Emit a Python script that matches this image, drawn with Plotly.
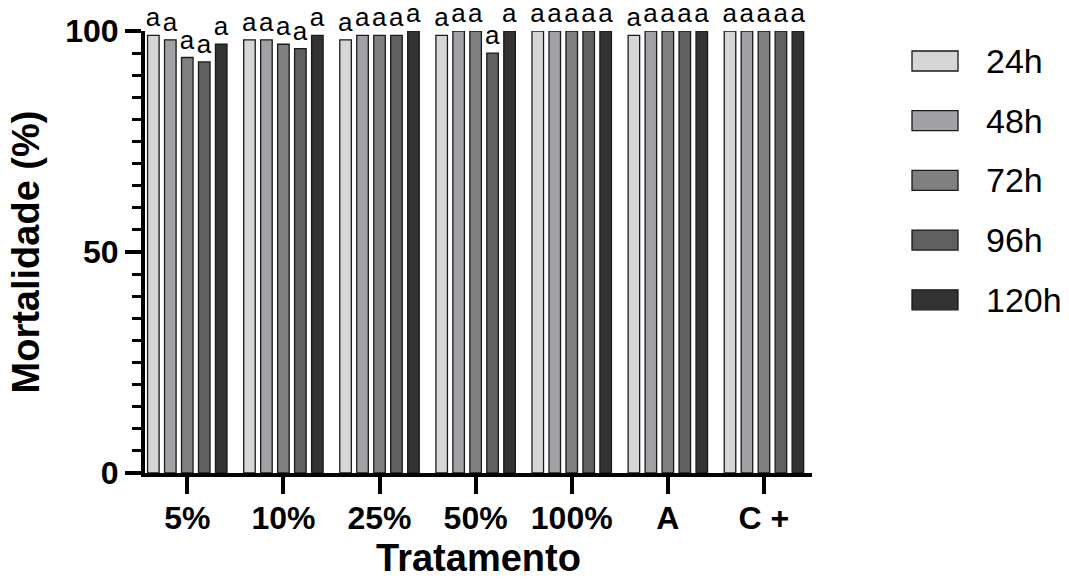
import plotly.graph_objects as go

# Treatments on the x axis
tratamentos = ["5%", "10%", "25%", "50%", "100%", "A", "C +"]

# Mortality (%) per exposure time
mort_24h = [99, 98, 98, 99, 100, 99, 100]
mort_48h = [98, 98, 99, 100, 100, 100, 100]
mort_72h = [94, 97, 99, 100, 100, 100, 100]
mort_96h = [93, 96, 99, 95, 100, 100, 100]
mort_120h = [97, 99, 100, 100, 100, 100, 100]

# Statistical grouping letters shown above each bar
letras = ["a", "a", "a", "a", "a", "a", "a"]

series_names = ["24h", "48h", "72h", "96h", "120h"]
series_values = [mort_24h, mort_48h, mort_72h, mort_96h, mort_120h]
series_colors = ["#d6d6d6", "#a2a1a6", "#808080", "#606060", "#333333"]

FONT = "Liberation Sans, Arial, Helvetica, sans-serif"

W, H = 1069, 587
M_L, M_R, M_T, M_B = 145, 257, 31, 114

fig = go.Figure()
for name, vals, col in zip(series_names, series_values, series_colors):
    fig.add_trace(go.Bar(
        name=name,
        x=tratamentos,
        y=vals,
        marker=dict(color=col, line=dict(color="#1a1a1a", width=1.3)),
        text=letras,
        textposition="outside",
        textfont=dict(family=FONT, size=26, color="#000000"),
        constraintext="none",
        cliponaxis=False,
        showlegend=False,
    ))

# Legend drawn as large swatches with labels to the right of the plot
def px_to_paper_x(px):
    return (px - M_L) / (W - M_L - M_R)

def px_to_paper_y(py):
    return 1 - (py - M_T) / (H - M_T - M_B)

shapes = []
annotations = []
row0, row_step = 61, 59.7
for i, (name, col) in enumerate(zip(series_names, series_colors)):
    cy = row0 + i * row_step
    shapes.append(dict(
        type="rect", xref="paper", yref="paper",
        x0=px_to_paper_x(912), x1=px_to_paper_x(958),
        y0=px_to_paper_y(cy - 10), y1=px_to_paper_y(cy + 10),
        fillcolor=col, line=dict(color="#1a1a1a", width=1.3),
    ))
    annotations.append(dict(
        text=name, xref="paper", yref="paper",
        x=px_to_paper_x(984), y=px_to_paper_y(cy),
        xanchor="left", yanchor="middle", showarrow=False,
        font=dict(family=FONT, size=34, color="#000000"),
    ))

fig.update_layout(
    width=W, height=H,
    margin=dict(l=M_L, r=M_R, t=M_T, b=M_B, autoexpand=False),
    paper_bgcolor="white", plot_bgcolor="white",
    barmode="group",
    bargap=0.117,
    bargroupgap=0.32,
    showlegend=False,
    shapes=shapes,
    annotations=annotations,
    font=dict(family=FONT, color="#000000"),
)

fig.update_xaxes(
    range=[-0.44, 6.5],
    automargin=False,
    showline=True, linecolor="#000000", linewidth=4,
    ticks="outside", ticklen=17, tickwidth=4, tickcolor="#000000",
    ticklabelstandoff=-3,
    tickfont=dict(family=FONT, size=32, color="#000000", weight="bold"),
    title=dict(text="<b>Tratamento</b>", font=dict(family=FONT, size=38, color="#000000"), standoff=10),
    showgrid=False, zeroline=False,
)
fig.update_yaxes(
    range=[0, 100],
    automargin=False,
    tickvals=[0, 50, 100],
    showline=True, linecolor="#000000", linewidth=4,
    ticks="outside", ticklen=16, tickwidth=4, tickcolor="#000000",
    minor=dict(dtick=5, ticks="outside", ticklen=9, tickwidth=3, tickcolor="#000000", showgrid=False),
    tickfont=dict(family=FONT, size=32, color="#000000", weight="bold"),
    title=dict(text="<b>Mortalidade (%)</b>", font=dict(family=FONT, size=38, color="#000000"), standoff=15),
    showgrid=False, zeroline=False,
)

fig.write_html("out.html")
